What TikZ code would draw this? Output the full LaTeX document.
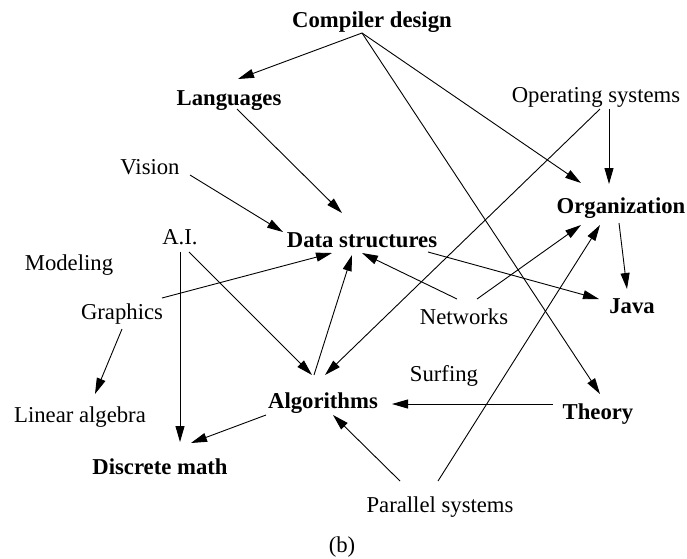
\documentclass[tikz,border=0pt]{standalone}
\usepackage{fontspec}
\setmainfont{Liberation Serif}
\usetikzlibrary{arrows.meta}
\begin{document}
\begin{tikzpicture}[x=1pt,y=-1pt,
  lbl/.style={anchor=base,inner sep=0pt,font=\fontsize{22.7}{27}\selectfont},
  bld/.style={anchor=base,inner sep=0pt,font=\fontsize{22.7}{27}\selectfont\bfseries},
  arr/.style={line width=0.9pt,-{Triangle[length=16pt,width=9pt]}}]
\useasboundingbox (0,0) rectangle (687,558);
% nodes
\node[bld] (cd) at (372,27) {Compiler design};
\node[bld] (lang) at (229,105) {Languages};
\node[lbl] (os) at (596,102) {Operating systems};
\node[lbl] (vis) at (150,174) {Vision};
\node[bld] (org) at (621,213) {Organization};
\node[bld] (ds) at (362,247) {Data structures};
\node[lbl] (ai) at (180,244) {A.I.};
\node[lbl] (mod) at (69,270) {Modeling};
\node[lbl] (gfx) at (122,319) {Graphics};
\node[lbl] (net) at (464,324) {Networks};
\node[bld] (java) at (632,313) {Java};
\node[lbl] (surf) at (444,381) {Surfing};
\node[bld] (alg) at (323,408) {Algorithms};
\node[bld] (th) at (598,419) {Theory};
\node[lbl] (la) at (80,422) {Linear algebra};
\node[bld] (dm) at (160,474) {Discrete math};
\node[lbl] (ps) at (440,512) {Parallel systems};
\node[lbl] (b) at (342,552) {(b)};
% ports
\coordinate (cd-o) at (362,33);
\coordinate (lang-i) at (238,79);
\coordinate (lang-o) at (237,109);
\coordinate (vis-o) at (190,175);
\coordinate (os-o1) at (600,109);
\coordinate (os-o2) at (609,109);
\coordinate (org-i1) at (581,183);
\coordinate (org-i2) at (609,184);
\coordinate (org-i3) at (581,225);
\coordinate (org-i4) at (600,225);
\coordinate (org-o) at (619,223);
\coordinate (ds-i1) at (342,213);
\coordinate (ds-i2) at (283,232);
\coordinate (ds-i3) at (332,253);
\coordinate (ds-i4) at (352,255);
\coordinate (ds-i5) at (362,253);
\coordinate (ds-o) at (428,252);
\coordinate (java-i1) at (627,289);
\coordinate (java-i2) at (599,299);
\coordinate (ai-o1) at (180,252);
\coordinate (ai-o2) at (189,252);
\coordinate (gfx-o1) at (162,298);
\coordinate (gfx-o2) at (122,329);
\coordinate (la-i) at (95,394);
\coordinate (net-o1) at (457,299);
\coordinate (net-o2) at (477,299);
\coordinate (alg-i1) at (312,375);
\coordinate (alg-o1) at (314,375);
\coordinate (alg-i2) at (325,375);
\coordinate (alg-i3) at (392,404);
\coordinate (alg-i4) at (333,415);
\coordinate (alg-o2) at (266,415);
\coordinate (th-i) at (600,394);
\coordinate (th-o) at (553,404);
\coordinate (dm-i1) at (180,442);
\coordinate (dm-i2) at (191,443);
\coordinate (ps-o1) at (400,481);
\coordinate (ps-o2) at (438,481);
% connectors
\draw[arr] (cd-o) -- (lang-i);
\draw[arr] (cd-o) -- (org-i1);
\draw[arr] (cd-o) -- (th-i);
\draw[arr] (lang-o) -- (ds-i1);
\draw[arr] (vis-o) -- (ds-i2);
\draw[arr] (os-o2) -- (org-i2);
\draw[arr] (os-o1) -- (alg-i2);
\draw[arr] (org-o) -- (java-i1);
\draw[arr] (ds-o) -- (java-i2);
\draw[arr] (net-o1) -- (ds-i5);
\draw[arr] (net-o2) -- (org-i3);
\draw[arr] (ps-o2) -- (org-i4);
\draw[arr] (ps-o1) -- (alg-i4);
\draw[arr] (th-o) -- (alg-i3);
\draw[arr] (alg-o2) -- (dm-i2);
\draw[arr] (ai-o1) -- (dm-i1);
\draw[arr] (ai-o2) -- (alg-i1);
\draw[arr] (gfx-o1) -- (ds-i3);
\draw[arr] (gfx-o2) -- (la-i);
\draw[arr] (alg-o1) -- (ds-i4);
\end{tikzpicture}
\end{document}
